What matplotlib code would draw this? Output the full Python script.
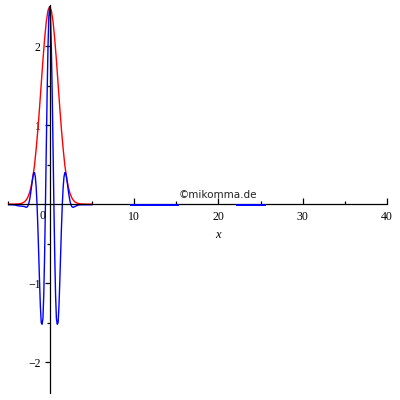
import matplotlib
matplotlib.use("Agg")
import matplotlib.pyplot as plt

# envelope (red)
red_x = [-5.0, -4.5, -4.0, -3.6, -3.3, -3.0, -2.8, -2.6, -2.4, -2.2, -2.0, -1.8, -1.6, -1.4,
         -1.2, -1.0, -0.8, -0.6, -0.4, -0.2, 0.0, 0.2, 0.4, 0.6, 0.8, 1.0, 1.2, 1.4, 1.6,
         1.8, 2.0, 2.2, 2.4, 2.6, 2.8, 3.0, 3.3, 3.6, 4.0, 4.5, 5.0]
red_y = [0.0, 0.0, 0.001, 0.004, 0.011, 0.028, 0.05, 0.085, 0.14, 0.22, 0.34, 0.49, 0.70, 0.94,
         1.22, 1.52, 1.82, 2.09, 2.31, 2.45, 2.50, 2.45, 2.31, 2.09, 1.82, 1.52, 1.22, 0.94, 0.70,
         0.49, 0.34, 0.22, 0.14, 0.085, 0.05, 0.028, 0.011, 0.004, 0.001, 0.0, 0.0]

# wave packet (blue)
blue_x = [-5.0, -4.5, -4.1, -3.8, -3.4, -3.0, -2.9, -2.8, -2.7, -2.6, -2.5, -2.4, -2.3, -2.2,
          -2.1, -2.0, -1.9, -1.8, -1.7, -1.6, -1.5, -1.4, -1.3, -1.2, -1.1, -1.0, -0.9, -0.8,
          -0.7, -0.6, -0.5, -0.4, -0.3, -0.2, -0.1, 0.0, 0.1, 0.2, 0.3, 0.4, 0.5, 0.6, 0.7,
          0.8, 0.9, 1.0, 1.1, 1.2, 1.3, 1.4, 1.5, 1.6, 1.7, 1.8, 1.9, 2.0, 2.1, 2.2, 2.3, 2.4,
          2.5, 2.6, 2.7, 2.8, 2.9, 3.0, 3.3, 3.6, 4.0, 4.5, 5.0]
blue_y = [-0.008, -0.008, -0.012, -0.02, -0.025, -0.03, -0.035, -0.04, -0.038, -0.026, 0.0, 0.043,
          0.104, 0.18, 0.262, 0.338, 0.391, 0.40, 0.346, 0.215, 0.0, -0.29, -0.631, -0.984,
          -1.298, -1.50, -1.52, -1.45, -1.15, -0.645, 0.0, 0.713, 1.405, 1.98, 2.37, 2.50,
          2.37, 1.98, 1.405, 0.713, 0.0, -0.645, -1.15, -1.45, -1.52, -1.50, -1.298, -0.984,
          -0.631, -0.29, 0.0, 0.215, 0.346, 0.40, 0.391, 0.338, 0.262, 0.18, 0.104, 0.043,
          0.0, -0.026, -0.038, -0.04, -0.035, -0.03, -0.015, -0.008, -0.008, -0.008, -0.008]

# stray blue pieces lying on the axis
seg1_x = [9.7, 15.2]
seg2_x = [22.2, 25.5]
seg_y = -0.012

x_major = [10, 20, 30, 40]
x_minor = [-5, 5, 15, 25, 35]
y_major = [-2, -1, 1, 2]
y_labels = ["\u22122", "\u22121", "1", "2"]
y_minor = [-1.5, -0.5, 0.5, 1.5]

plt.rcParams['font.family'] = ['Liberation Serif', 'DejaVu Serif']

fig = plt.figure(figsize=(4, 4), dpi=100)
ax = fig.add_axes([7.5 / 400, 7 / 400, 379.5 / 400, 388 / 400])
ax.set_xlim(-5, 40)
ax.set_ylim(-2.39, 2.52)

ax.plot(red_x, red_y, color='#ff0000', lw=1.0, zorder=2)
ax.plot(blue_x, blue_y, color='#0000ff', lw=1.0, zorder=2.2)
ax.plot(seg1_x, [seg_y, seg_y], color='#0000ff', lw=1.4, zorder=3)
ax.plot(seg2_x, [seg_y, seg_y], color='#0000ff', lw=1.4, zorder=3)

for s in ['top', 'right']:
    ax.spines[s].set_visible(False)
ax.spines['left'].set_position(('data', 0))
ax.spines['bottom'].set_position(('data', 0))
for s in ['left', 'bottom']:
    ax.spines[s].set_linewidth(0.9)

ax.set_xticks(x_major)
ax.set_xticks(x_minor, minor=True)
ax.set_yticks(y_major)
ax.set_yticklabels(y_labels)
ax.set_yticks(y_minor, minor=True)

ax.tick_params(axis='x', which='major', direction='in', length=4, width=0.9, pad=5, labelsize=8.5)
ax.tick_params(axis='x', which='minor', direction='in', length=2.5, width=0.9)
ax.tick_params(axis='y', which='major', direction='out', length=3.5, width=0.9, pad=3, labelsize=8.5)
ax.tick_params(axis='y', which='minor', direction='out', length=2.2, width=0.9)

ax.annotate("0", (0, 0), xytext=(-3, -4.5), textcoords='offset points',
            ha='right', va='top', fontsize=8.5)
ax.annotate("x", (20, 0), xytext=(0, -18), textcoords='offset points',
            ha='center', va='top', fontsize=9, style='italic')
ax.annotate("\u00a9mikomma.de", (20, 0), xytext=(0, 3), textcoords='offset points',
            ha='center', va='bottom', fontsize=7.5, family='DejaVu Sans', color='#222222')

fig.savefig("out.png", dpi=100)
